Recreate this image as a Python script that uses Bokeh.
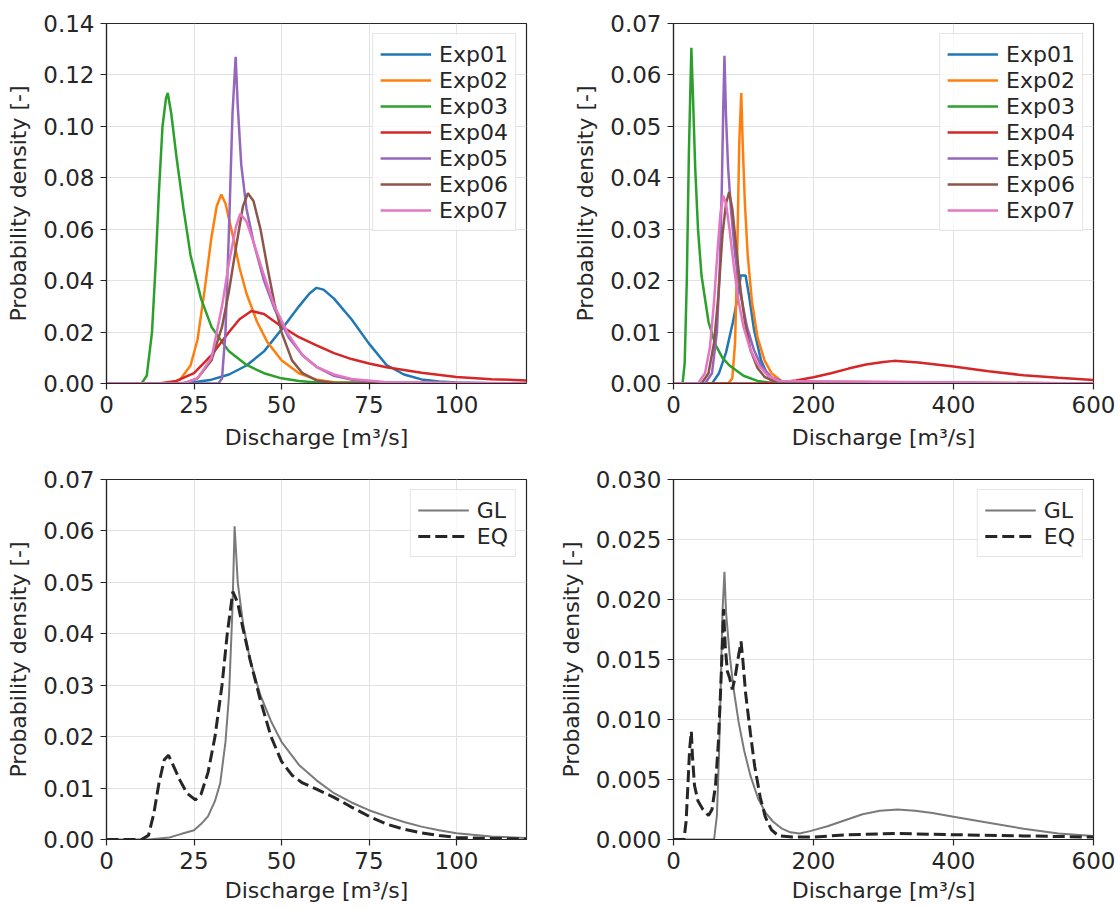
from bokeh.plotting import figure
from bokeh.models import Range1d, FixedTicker, PrintfTickFormatter, Legend, LegendItem
from bokeh.layouts import column, row
from bokeh.embed import file_html
from bokeh.resources import INLINE

# ---------------- data ----------------
EXP_NAMES = ["Exp01", "Exp02", "Exp03", "Exp04", "Exp05", "Exp06", "Exp07"]
EXP_COLORS = ["#1f77b4", "#ff7f0e", "#2ca02c", "#d62728", "#9467bd", "#8c564b", "#e377c2"]

# top-left panel (discharge 0-120)
TL_Q01 = [0, 20, 25, 30, 35, 40, 45, 50, 55, 58, 60, 62, 65, 70, 75, 80, 85, 90, 95, 100, 110, 120]
TL_P01 = [0, 0, 0.0005, 0.0015, 0.0035, 0.007, 0.0125, 0.021, 0.030, 0.035, 0.0372, 0.0365, 0.033, 0.025, 0.0155, 0.0072, 0.0035, 0.0016, 0.0008, 0.0004, 0.0001, 0]
TL_Q02 = [0, 18, 21, 24, 26, 28, 30, 31.5, 32.8, 34, 36, 38, 40, 43, 46, 50, 55, 60, 65, 120]
TL_P02 = [0, 0, 0.0015, 0.007, 0.017, 0.036, 0.057, 0.069, 0.0735, 0.07, 0.058, 0.045, 0.035, 0.024, 0.016, 0.009, 0.004, 0.0015, 0.0005, 0]
TL_Q03 = [0, 10, 11.5, 13, 14, 15, 16, 17, 17.5, 18.5, 20, 22, 24, 27, 30, 35, 40, 45, 50, 55, 60, 120]
TL_P03 = [0, 0, 0.003, 0.02, 0.045, 0.075, 0.1, 0.111, 0.113, 0.105, 0.088, 0.068, 0.05, 0.033, 0.022, 0.0125, 0.0072, 0.004, 0.002, 0.001, 0.0004, 0]
TL_Q04 = [0, 15, 20, 25, 30, 35, 38, 41.4, 45, 50, 55, 60, 65, 70, 75, 80, 90, 100, 110, 120]
TL_P04 = [0, 0, 0.001, 0.004, 0.011, 0.02, 0.025, 0.0282, 0.027, 0.0222, 0.018, 0.0148, 0.0118, 0.0095, 0.0078, 0.0063, 0.0042, 0.0025, 0.0017, 0.0012]
TL_Q05 = [0, 32, 33, 34, 35, 36, 36.9, 37.5, 38.5, 40, 42, 45, 48, 52, 56, 60, 65, 70, 80, 120]
TL_P05 = [0, 0, 0.002, 0.02, 0.06, 0.105, 0.127, 0.108, 0.085, 0.068, 0.055, 0.040, 0.029, 0.018, 0.011, 0.0065, 0.003, 0.0015, 0.0003, 0]
TL_Q06 = [0, 22, 26, 30, 33, 35, 37, 39, 40.4, 42, 44, 46, 48, 50, 53, 56, 60, 65, 120]
TL_P06 = [0, 0, 0.002, 0.009, 0.022, 0.036, 0.053, 0.069, 0.074, 0.071, 0.06, 0.045, 0.031, 0.02, 0.009, 0.004, 0.0012, 0.0002, 0]
TL_Q07 = [0, 22, 26, 30, 33, 35, 37, 38.2, 40, 42, 45, 48, 52, 56, 60, 65, 70, 80, 120]
TL_P07 = [0, 0, 0.002, 0.01, 0.03, 0.047, 0.061, 0.066, 0.063, 0.055, 0.042, 0.030, 0.019, 0.011, 0.0065, 0.0035, 0.0018, 0.0005, 0]

# top-right panel (discharge 0-600)
TR_Q01 = [0, 55, 65, 75, 85, 92, 96, 103, 108, 115, 125, 135, 150, 240]
TR_P01 = [0, 0, 0.002, 0.006, 0.012, 0.017, 0.021, 0.021, 0.017, 0.0105, 0.0045, 0.0015, 0.0003, 0]
TR_Q02 = [0, 78, 84, 88, 91, 94, 96.8, 99, 102, 106, 112, 120, 130, 140, 155, 600]
TR_P02 = [0, 0, 0.001, 0.008, 0.025, 0.047, 0.0565, 0.046, 0.035, 0.025, 0.016, 0.009, 0.0045, 0.002, 0.0004, 0]
TR_Q03 = [0, 13, 16, 19, 22, 25.5, 28, 31, 35, 40, 50, 60, 70, 80, 100, 120, 140, 600]
TR_P03 = [0, 0, 0.004, 0.02, 0.045, 0.0653, 0.055, 0.042, 0.03, 0.021, 0.012, 0.0075, 0.005, 0.0035, 0.0015, 0.0005, 0.0001, 0]
TR_Q04 = [0, 120, 150, 175, 200, 225, 250, 275, 300, 315, 330, 350, 375, 400, 450, 500, 550, 600]
TR_P04 = [0, 0, 0.0002, 0.0006, 0.0012, 0.002, 0.0029, 0.0037, 0.0042, 0.0044, 0.0043, 0.0041, 0.0037, 0.0033, 0.0024, 0.0016, 0.0011, 0.0007]
TR_Q05 = [0, 45, 55, 62, 66, 69, 71, 72.8, 75, 78, 82, 88, 95, 105, 115, 125, 140, 160, 600]
TR_P05 = [0, 0, 0.002, 0.01, 0.022, 0.038, 0.053, 0.0637, 0.052, 0.042, 0.034, 0.025, 0.018, 0.011, 0.0065, 0.0035, 0.0012, 0.0002, 0]
TR_Q06 = [0, 40, 50, 58, 64, 70, 75, 79.5, 84, 90, 96, 102, 110, 120, 130, 145, 600]
TR_P06 = [0, 0, 0.002, 0.008, 0.017, 0.029, 0.035, 0.0372, 0.034, 0.026, 0.018, 0.012, 0.0065, 0.003, 0.0013, 0.0003, 0]
TR_Q07 = [0, 35, 45, 52, 58, 63, 67, 71, 75, 80, 86, 93, 100, 110, 120, 135, 150, 600]
TR_P07 = [0, 0, 0.002, 0.007, 0.016, 0.026, 0.033, 0.0365, 0.035, 0.03, 0.023, 0.016, 0.011, 0.0065, 0.0038, 0.0015, 0.0005, 0]

# bottom-left panel (discharge 0-120)
BL_Q_GL = [0, 12, 15, 18, 20, 22, 25, 27, 29, 31, 32.5, 34, 35, 36, 36.6, 37.5, 39, 41, 44, 47, 50, 55, 60, 65, 70, 75, 80, 85, 90, 95, 100, 110, 120]
BL_P_GL = [0, 0, 0.0002, 0.0004, 0.0008, 0.0012, 0.0018, 0.003, 0.0045, 0.0075, 0.011, 0.019, 0.028, 0.045, 0.0609, 0.05, 0.042, 0.035, 0.028, 0.023, 0.019, 0.0145, 0.0115, 0.009, 0.0072, 0.0057, 0.0045, 0.0034, 0.0025, 0.0018, 0.0012, 0.0006, 0.0003]
BL_Q_EQ = [0, 10, 12, 13.5, 15, 16.5, 17.7, 19, 21, 23, 25.4, 27, 29, 31, 33, 34.5, 36.1, 37.5, 39, 41, 44, 47, 50, 53, 56, 60, 65, 70, 75, 80, 85, 90, 95, 100, 110, 120]
BL_P_EQ = [0, 0, 0.0008, 0.005, 0.011, 0.0155, 0.0164, 0.0145, 0.0115, 0.009, 0.0077, 0.0088, 0.013, 0.02, 0.03, 0.04, 0.0482, 0.046, 0.041, 0.035, 0.027, 0.02, 0.0152, 0.0125, 0.011, 0.0098, 0.0082, 0.0063, 0.0045, 0.003, 0.002, 0.0013, 0.0008, 0.0004, 0.0002, 0.0001]

# bottom-right panel (discharge 0-600)
BR_Q_GL = [0, 58, 62, 65, 68, 70, 72.8, 75, 80, 86, 93, 101, 110, 121, 132, 142, 155, 167, 180, 195, 220, 245, 270, 295, 320, 345, 370, 400, 450, 500, 550, 600]
BR_P_GL = [0, 0, 0.002, 0.007, 0.014, 0.019, 0.0223, 0.019, 0.0155, 0.0125, 0.0098, 0.0074, 0.0053, 0.0034, 0.0022, 0.0015, 0.0009, 0.0006, 0.0005, 0.0007, 0.0011, 0.0016, 0.0021, 0.0024, 0.0025, 0.0024, 0.0022, 0.0019, 0.0014, 0.0009, 0.0005, 0.0003]
BR_Q_EQ = [0, 15, 18, 21, 23, 25.5, 27, 30, 35, 42, 50, 55, 60, 64, 67, 70, 71.5, 74, 77, 80, 84, 88, 92, 96.5, 99, 103, 110, 116, 124, 131, 140, 150, 170, 200, 250, 320, 400, 500, 600]
BR_P_EQ = [0, 0, 0.0015, 0.005, 0.0075, 0.009, 0.007, 0.0045, 0.0032, 0.0025, 0.002, 0.0025, 0.0045, 0.008, 0.012, 0.0165, 0.0192, 0.016, 0.014, 0.0135, 0.0125, 0.0135, 0.015, 0.0165, 0.015, 0.0122, 0.0088, 0.0061, 0.0035, 0.0019, 0.0008, 0.0003, 0.0002, 0.0002, 0.0004, 0.0005, 0.0004, 0.0003, 0.0002]

X_TICKS_SMALL = [0, 25, 50, 75, 100]
X_TICKS_LARGE = [0, 200, 400, 600]
Y_TICKS_TL = [0, 0.02, 0.04, 0.06, 0.08, 0.10, 0.12, 0.14]
Y_TICKS_07 = [0, 0.01, 0.02, 0.03, 0.04, 0.05, 0.06, 0.07]
Y_TICKS_BR = [0, 0.005, 0.010, 0.015, 0.020, 0.025, 0.030]

X_LABEL = "Discharge [m³/s]"
Y_LABEL = "Probability density [-]"

FONT = "DejaVu Sans"
TXT = "#262626"


def make_fig(xmax, ymax, xticks, yticks, yfmt, bl, br, bt, bb, xstand):
    p = figure(width=bl + 420 + br, height=bt + 360 + bb,
               x_range=Range1d(0, xmax), y_range=Range1d(0, ymax),
               output_backend="svg", toolbar_location=None,
               min_border_left=bl, min_border_right=br,
               min_border_top=bt, min_border_bottom=bb)
    p.outline_line_color = TXT
    p.outline_line_width = 1.2
    p.background_fill_color = "white"
    p.border_fill_color = "white"
    for ax, ticks in ((p.xaxis, xticks), (p.yaxis, yticks)):
        ax.ticker = FixedTicker(ticks=ticks)
        ax.minor_tick_line_color = None
        ax.major_tick_in = 0
        ax.major_tick_out = 6
        ax.major_tick_line_color = TXT
        ax.major_tick_line_width = 1.2
        ax.axis_line_color = TXT
        ax.axis_line_width = 1.2
        ax.major_label_text_font = FONT
        ax.major_label_text_font_size = "23px"
        ax.major_label_text_color = TXT
        ax.axis_label_text_font = FONT
        ax.axis_label_text_font_size = "22px"
        ax.axis_label_text_font_style = "normal"
        ax.axis_label_text_color = TXT
        ax.major_label_standoff = 6
    p.xaxis.axis_label = X_LABEL
    p.yaxis.axis_label = Y_LABEL
    p.xaxis.axis_label_standoff = xstand
    p.yaxis.axis_label_standoff = 9
    p.yaxis.formatter = PrintfTickFormatter(format=yfmt)
    p.xgrid.ticker = FixedTicker(ticks=xticks)
    p.ygrid.ticker = FixedTicker(ticks=yticks)
    p.xgrid.grid_line_color = "#e2e2e2"
    p.ygrid.grid_line_color = "#e2e2e2"
    return p


def add_legend(p, items):
    leg = Legend(items=items, location="top_right",
                 label_text_font=FONT, label_text_font_size="22px",
                 label_text_color=TXT,
                 border_line_color="#cccccc", border_line_width=1.2,
                 background_fill_color="white", background_fill_alpha=0.8,
                 padding=7, spacing=0, margin=10,
                 glyph_width=51, glyph_height=26, label_height=26,
                 label_standoff=8)
    p.add_layout(leg)


def exp_panel(p, qs, ps):
    items = []
    for name, color, q, pr in zip(EXP_NAMES, EXP_COLORS, qs, ps):
        r = p.line(q, pr, line_color=color, line_width=2.5)
        items.append(LegendItem(label=name, renderers=[r]))
    add_legend(p, items)


def comp_panel(p, qgl, pgl, qeq, peq):
    r1 = p.line(qgl, pgl, line_color="#7a7a7a", line_width=2)
    r2 = p.line(qeq, peq, line_color="#262626", line_width=3, line_dash="12 5")
    add_legend(p, [LegendItem(label="GL", renderers=[r1]),
                   LegendItem(label="EQ", renderers=[r2])])


p1 = make_fig(120, 0.14, X_TICKS_SMALL, Y_TICKS_TL, "%.2f", 106, 20, 23, 80, 9)
exp_panel(p1, [TL_Q01, TL_Q02, TL_Q03, TL_Q04, TL_Q05, TL_Q06, TL_Q07],
          [TL_P01, TL_P02, TL_P03, TL_P04, TL_P05, TL_P06, TL_P07])

p2 = make_fig(600, 0.07, X_TICKS_LARGE, Y_TICKS_07, "%.2f", 127, 24, 23, 80, 9)
exp_panel(p2, [TR_Q01, TR_Q02, TR_Q03, TR_Q04, TR_Q05, TR_Q06, TR_Q07],
          [TR_P01, TR_P02, TR_P03, TR_P04, TR_P05, TR_P06, TR_P07])

p3 = make_fig(120, 0.07, X_TICKS_SMALL, Y_TICKS_07, "%.2f", 106, 20, 16, 68, 6)
comp_panel(p3, BL_Q_GL, BL_P_GL, BL_Q_EQ, BL_P_EQ)

p4 = make_fig(600, 0.03, X_TICKS_LARGE, Y_TICKS_BR, "%.3f", 127, 24, 16, 68, 6)
comp_panel(p4, BR_Q_GL, BR_P_GL, BR_Q_EQ, BR_P_EQ)

layout = column(row(p1, p2), row(p3, p4))
open("out.html", "w").write(file_html(layout, INLINE))
